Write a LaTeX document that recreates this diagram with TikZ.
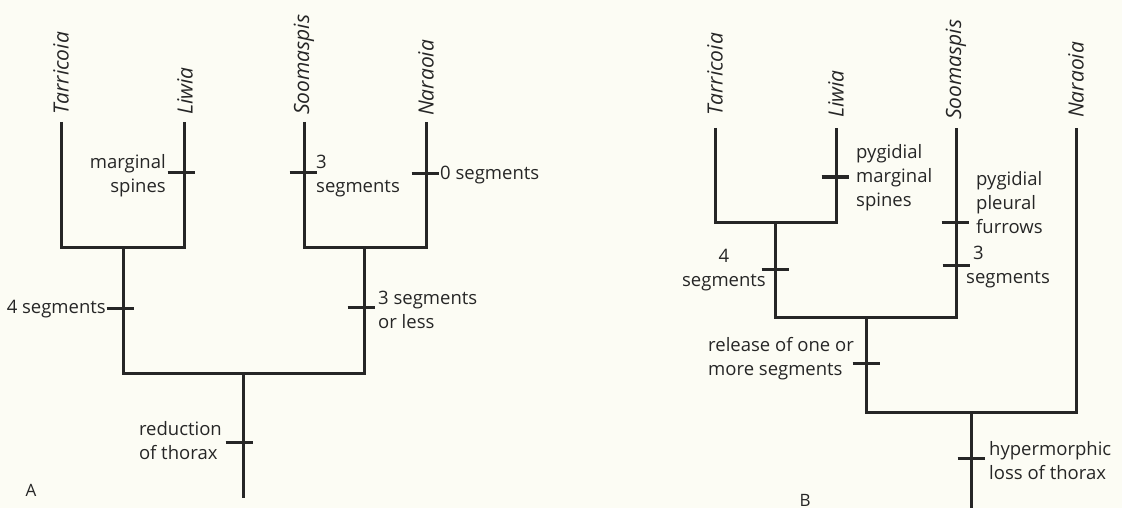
\documentclass[tikz,border=0pt]{standalone}
\usepackage{fontspec}
\setmainfont{Open Sans}
\definecolor{paper}{RGB}{252,252,244}
\definecolor{ink}{RGB}{38,38,38}
\tikzset{
  branch/.style={draw=ink, line width=3pt, line join=miter},
  tickmark/.style={draw=ink, line width=3pt},
  taxon/.style={rotate=90, anchor=west, inner sep=0pt, text=ink, font=\fontsize{21}{24}\selectfont\itshape},
  note/.style={inner sep=0pt, text=ink, align=left, font=\fontsize{18.5}{24}\selectfont},
  panel/.style={inner sep=0pt, text=ink, font=\fontsize{17}{20}\selectfont}
}
\begin{document}
\begin{tikzpicture}[x=1pt,y=-1pt]
\fill[paper] (0,0) rectangle (1122,508);
\useasboundingbox (0,0) rectangle (1122,508);
% ---------------- Panel A ----------------
\coordinate (a1) at (61,122);
\coordinate (a2) at (184,122);
\coordinate (a3) at (304,122);
\coordinate (a4) at (426,122);
\coordinate (a12) at (123,247);
\coordinate (a34) at (364,247);
\coordinate (aroot) at (243,373);
\coordinate (abase) at (243,498);
\draw[branch] (a1) |- (a12) -| (a2);
\draw[branch] (a3) |- (a34) -| (a4);
\draw[branch] (a12) |- (aroot) -| (a34);
\draw[branch] (aroot) -- (abase);
% ticks A
\coordinate (ta2) at (181,173);
\coordinate (ta3) at (303,173);
\coordinate (ta4) at (425,174);
\coordinate (ta12) at (120,308);
\coordinate (ta34) at (361,307);
\coordinate (taroot) at (239,442);
\foreach \t in {ta2,ta3,ta4,ta12,ta34,taroot}
  \draw[tickmark] ([xshift=-13.5pt]\t) -- ([xshift=13.5pt]\t);
\node[taxon] (nA1) at (61,115) {Tarricoia};
\node[taxon] (nA2) at (185,115) {Liwia};
\node[taxon] (nA3) at (304,115) {Soomaspis};
\node[taxon] (nA4) at (426,116) {Naraoia};
\node[note, anchor=east, align=right] (lA1) at (166,176) {marginal\\spines};
\node[note, anchor=west] (lA2) at (316,176) {3\\segments};
\node[note, anchor=west] (lA3) at (440,175) {0 segments};
\node[note, anchor=east] (lA4) at (106,309) {4 segments};
\node[note, anchor=west] (lA5) at (378,310) {3 segments\\or less};
\node[note, anchor=east] (lA6) at (222,441) {reduction\\of thorax};
\node[panel] (pA) at (31,490) {A};
% ---------------- Panel B ----------------
\coordinate (b1) at (715,128);
\coordinate (b2) at (836,128);
\coordinate (b3) at (956,128);
\coordinate (b4) at (1076,128);
\coordinate (b12) at (775,222);
\coordinate (b123) at (866,317);
\coordinate (broot) at (971,412);
\coordinate (bbase) at (971,508);
\draw[branch] (b1) |- (b12) -| (b2);
\draw[branch] (b12) |- (b123) -| (b3);
\draw[branch] (b123) |- (broot) -| (b4);
\draw[branch] (broot) -- (bbase);
% ticks B
\coordinate (tb2) at (835,177);
\coordinate (tb3a) at (955,222);
\coordinate (tb3b) at (956,265);
\coordinate (tb12) at (775,269);
\coordinate (tb123) at (866,363);
\coordinate (tbroot) at (971,458);
\foreach \t in {tb2,tb3a,tb3b,tb12,tb123,tbroot}
  \draw[tickmark] ([xshift=-13.5pt]\t) -- ([xshift=13.5pt]\t);
\node[taxon] (nB1) at (715,116) {Tarricoia};
\node[taxon] (nB2) at (836,118) {Liwia};
\node[taxon] (nB3) at (956,120) {Soomaspis};
\node[taxon] (nB4) at (1076,118) {Naraoia};
\node[note, anchor=west] (lB1) at (856,178) {pygidial\\marginal\\spines};
\node[note, anchor=west] (lB2) at (976,203) {pygidial\\pleural\\furrows};
\node[note, anchor=west] (lB3) at (966,267) {\hspace*{7pt}3\\segments};
\node[note, anchor=east, align=center] (lB4) at (766,270) {4\\segments};
\node[note, anchor=west] (lB5) at (708,359) {release of one or\\more segments};
\node[note, anchor=west] (lB6) at (989,461) {hypermorphic\\loss of thorax};
\node[panel] (pB) at (805,500) {B};
\end{tikzpicture}
\end{document}
